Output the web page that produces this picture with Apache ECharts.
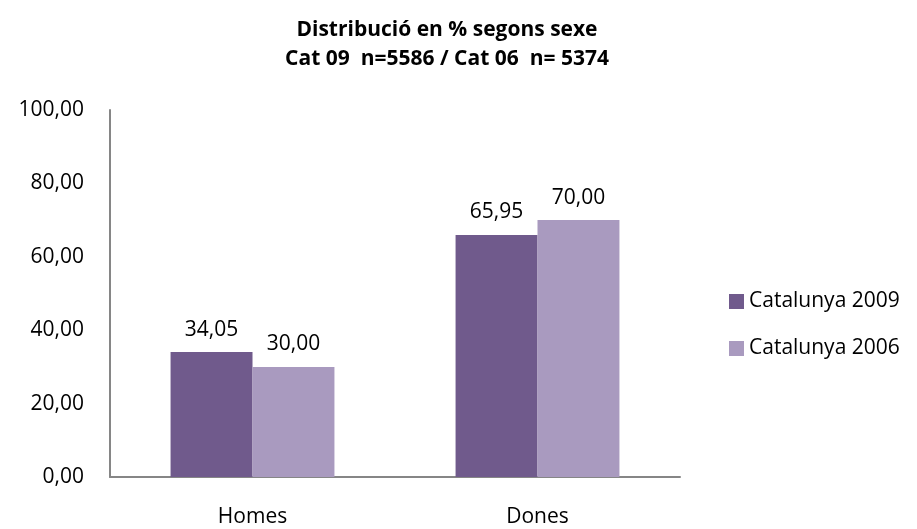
<!DOCTYPE html>
<html>
<head>
<meta charset="utf-8">
<script src="https://cdn.jsdelivr.net/npm/echarts@6/dist/echarts.min.js"></script>
<style>
    html,body{margin:0;padding:0;background:#fff;}
    #chart{width:917px;height:529px;}
</style>
</head>
<body>
<div id="chart"></div>
<script>
// categories and values
var categories = ['Homes', 'Dones'];
var cat2009 = [34.05, 65.95];
var cat2006 = [30.00, 70.00];
var seriesNames = ['Catalunya 2009', 'Catalunya 2006'];

var fontFam = '"Open Sans", "Noto Sans", sans-serif';

function comma(v){
    return Number(v).toFixed(2).replace('.', ',');
}

var myChart = echarts.init(document.getElementById('chart'));
myChart.setOption({
    animation: false,
    title: {
        text: 'Distribució en % segons sexe\nCat 09  n=5586 / Cat 06  n= 5374',
        left: 442,
        top: 11,
        textAlign: 'center',
        textStyle: {
            fontFamily: fontFam,
            fontSize: 21,
            fontWeight: 'bold',
            color: '#000',
            lineHeight: 29
        }
    },
    legend: {
        orient: 'vertical',
        left: 724,
        top: 286,
        itemWidth: 15,
        itemHeight: 15,
        itemGap: 26,
        icon: 'rect',
        textStyle: {
            fontFamily: fontFam,
            fontSize: 21,
            color: '#000'
        },
        data: seriesNames
    },
    grid: {
        left: 110,
        right: 237,
        top: 110,
        bottom: 52
    },
    xAxis: {
        type: 'category',
        data: categories,
        axisLine: {lineStyle: {color: '#868686', width: 2}},
        axisTick: {show: false},
        axisLabel: {
            margin: 30,
            fontFamily: fontFam,
            fontSize: 21,
            color: '#000'
        }
    },
    yAxis: {
        type: 'value',
        min: 0,
        max: 100,
        interval: 20,
        axisLine: {show: true, lineStyle: {color: '#868686', width: 2}},
        axisTick: {show: false},
        splitLine: {show: false},
        axisLabel: {
            margin: 26,
            fontFamily: fontFam,
            fontSize: 21,
            color: '#000',
            formatter: comma
        }
    },
    series: [
        {
            name: seriesNames[0],
            type: 'bar',
            data: cat2009,
            barGap: '0%',
            barCategoryGap: '42.5%',
            itemStyle: {color: '#705A8C'},
            label: {
                show: true,
                position: 'top',
                distance: 12,
                fontFamily: fontFam,
                fontSize: 21,
                color: '#000',
                formatter: function(p){ return comma(p.value); }
            }
        },
        {
            name: seriesNames[1],
            type: 'bar',
            data: cat2006,
            itemStyle: {color: '#A99ABF'},
            label: {
                show: true,
                position: 'top',
                distance: 12,
                fontFamily: fontFam,
                fontSize: 21,
                color: '#000',
                formatter: function(p){ return comma(p.value); }
            }
        }
    ]
});
</script>
</body>
</html>
